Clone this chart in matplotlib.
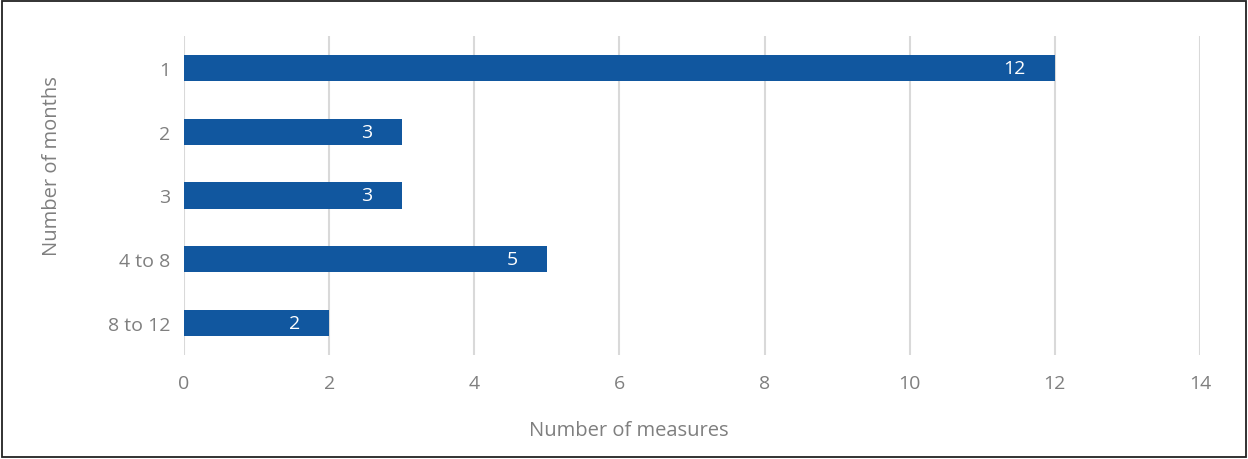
import matplotlib.pyplot as plt
from matplotlib.patches import Rectangle
from matplotlib.ticker import MultipleLocator

# data
months = ["1", "2", "3", "4 to 8", "8 to 12"]
measures = [12, 3, 3, 5, 2]

plt.rcParams['font.family'] = ['Open Sans', 'DejaVu Sans']

fig = plt.figure(figsize=(12.48, 4.6), dpi=100)
ax = fig.add_axes([184 / 1248, 1 - 356 / 460, 1016 / 1248, 319 / 460])

pos = list(range(len(months)))
ax.barh(pos, measures, height=0.41, color="#11579F", zorder=3)

# value labels inside the bar ends
for p, v in zip(pos, measures):
    ax.annotate(str(v), xy=(v, p), xytext=(-21, 0), textcoords="offset points",
                ha="right", va="center", color="white", fontsize=14, zorder=4)

ax.set_xlim(0, 14)
ax.set_ylim(len(months) - 0.5, -0.5)
ax.xaxis.set_major_locator(MultipleLocator(2))
ax.set_yticks(pos)
ax.set_yticklabels(months)

ax.grid(axis="x", color="#D9D9D9", linewidth=1.5, zorder=0)
ax.tick_params(axis="both", length=0, labelsize=14, labelcolor="#7F7F7F")
ax.tick_params(axis="x", pad=14)
ax.tick_params(axis="y", pad=10)
for s in ax.spines.values():
    s.set_visible(False)

fig.text(629 / 1248, 1 - 431 / 460, "Number of measures", ha="center", va="center",
         fontsize=14.5, color="#7F7F7F")
fig.text(52 / 1248, 1 - 166 / 460, "Number of months", ha="center", va="center",
         rotation=90, fontsize=14.5, color="#7F7F7F")

# outer frame
fig.patches.append(Rectangle((0.002, 0.004), 0.996, 0.992, transform=fig.transFigure,
                             fill=False, edgecolor="#222222", linewidth=1.3))

fig.savefig("out.png", dpi=100)
